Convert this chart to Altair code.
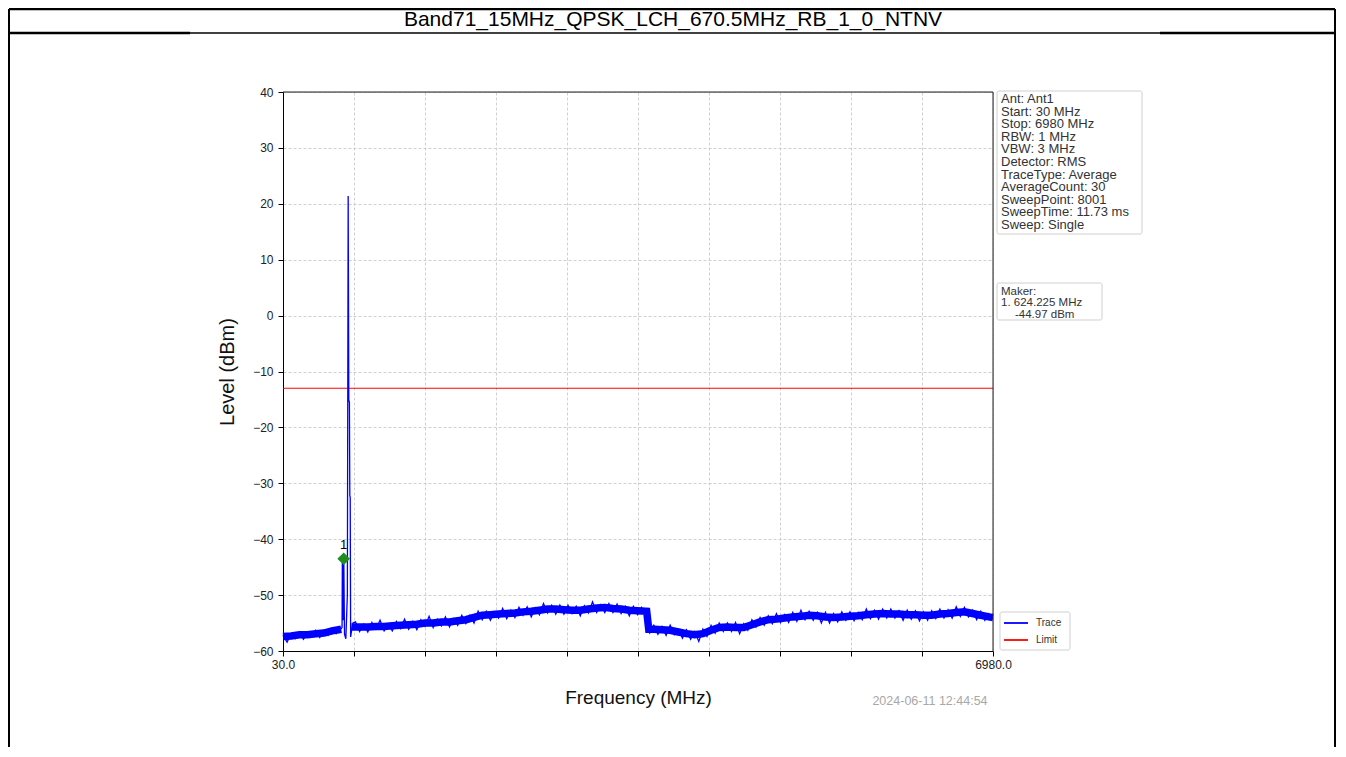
import altair as alt
import pandas as pd

TITLE = "Band71_15MHz_QPSK_LCH_670.5MHz_RB_1_0_NTNV"

# Trace (frequency in MHz, level in dBm)
trace_freq = [
    30, 70, 110, 150, 190, 230, 270, 310, 350, 390, 430, 470, 510, 550, 590,
    600, 608, 611, 618, 625, 632, 645, 660, 668, 674, 680, 684, 688, 692, 700, 715,
    740, 780, 820, 860, 900, 940, 980, 1020, 1060, 1100, 1140, 1180, 1220, 1260, 1300,
    1340, 1380, 1420, 1460, 1500, 1540, 1580, 1620, 1660, 1700, 1740, 1780, 1820, 1860,
    1900, 1940, 1980, 2020, 2060, 2100, 2140, 2180, 2220, 2260, 2300, 2340, 2380, 2420,
    2460, 2500, 2540, 2580, 2620, 2660, 2700, 2740, 2780, 2820, 2860, 2900, 2940, 2980,
    3020, 3060, 3100, 3140, 3180, 3220, 3260, 3300, 3340, 3380, 3420, 3460, 3500, 3540,
    3580, 3595, 3605, 3620, 3660, 3700, 3740, 3780, 3820, 3860, 3900, 3940, 3980, 4020,
    4060, 4100, 4140, 4180, 4220, 4260, 4300, 4340, 4380, 4420, 4460, 4500, 4540, 4580,
    4620, 4660, 4700, 4740, 4780, 4820, 4860, 4900, 4940, 4980, 5020, 5060, 5100, 5140,
    5180, 5220, 5260, 5300, 5340, 5380, 5420, 5460, 5500, 5540, 5580, 5620, 5660, 5700,
    5740, 5780, 5820, 5860, 5900, 5940, 5980, 6020, 6060, 6100, 6140, 6180, 6220, 6260,
    6300, 6340, 6380, 6420, 6460, 6500, 6540, 6580, 6620, 6660, 6700, 6740, 6780, 6820,
    6860, 6900, 6940, 6980,
]
trace_level = [
    -57.2, -58.4, -56.9, -57.8, -56.6, -57.9, -56.8, -57.5, -56.3, -57.6, -56.5, -57.2, -55.9, -56.9, -56.0,
    -56.0, -55.8, -43.3, -54.5, -43.5, -57.0, -57.8, -50.0, 21.4, -15.1, -15.5, -32.2, -32.5, -57.5, -56.5, -55.0,
    -54.8, -56.5, -55.2, -56.6, -54.9, -56.1, -54.5, -56.4, -55.3, -56.4, -54.7, -56.0, -54.3, -56.1, -54.7,
    -56.2, -54.4, -55.6, -53.8, -55.8, -54.3, -55.5, -53.9, -55.7, -54.2, -55.4, -53.6, -55.1, -53.6,
    -55.0, -52.9, -54.4, -52.9, -54.5, -53.0, -54.1, -52.4, -54.2, -52.7, -54.0, -52.2, -53.6, -52.1,
    -53.9, -52.3, -53.5, -51.5, -53.2, -51.8, -53.4, -51.8, -53.4, -51.8, -53.3, -52.0, -53.7, -51.9,
    -53.2, -51.2, -53.1, -51.7, -53.1, -51.5, -53.1, -51.6, -53.3, -52.0, -53.7, -52.0, -53.5, -52.2,
    -53.6, -52.6, -56.3, -56.8, -55.4, -57.0, -55.6, -57.2, -55.4, -57.1, -56.1, -57.7, -56.2, -57.9,
    -56.5, -58.3, -56.1, -57.4, -55.4, -56.8, -55.0, -56.5, -55.0, -56.5, -54.9, -56.9, -55.1, -56.3,
    -54.4, -55.7, -54.0, -55.4, -53.7, -55.1, -53.3, -54.9, -53.5, -54.9, -53.1, -54.7, -52.7, -54.4,
    -52.9, -54.5, -53.1, -55.0, -53.1, -55.0, -53.3, -54.8, -53.0, -54.5, -53.0, -54.6, -53.1, -54.4,
    -52.5, -54.2, -52.7, -54.3, -52.5, -54.1, -52.5, -54.1, -52.8, -54.5, -52.7, -54.3, -52.8, -54.6,
    -53.0, -54.5, -52.8, -54.2, -52.5, -54.1, -52.6, -54.1, -52.1, -53.8, -52.2, -53.9, -52.7, -54.4,
    -52.9, -54.5, -53.3, -54.2,
]

# Middle of the dense noise band of the trace (two pieces around the carrier)
floor_freq_a = [30, 110, 190, 270, 350, 430, 510, 600]
floor_level_a = [-57.4, -57.3, -57.1, -57.1, -56.9, -56.8, -56.4, -56.1]
floor_freq_b = [
    700, 780, 860, 940, 1020, 1100, 1180, 1260, 1340, 1420, 1500, 1580, 1660, 1740,
    1820, 1900, 1980, 2060, 2140, 2220, 2300, 2380, 2460, 2540, 2620, 2700, 2780, 2860,
    2940, 3020, 3100, 3180, 3260, 3340, 3420, 3500, 3590, 3610, 3660, 3740, 3820, 3900,
    3980, 4060, 4140, 4220, 4300, 4380, 4460, 4540, 4620, 4700, 4780, 4860, 4940, 5020,
    5100, 5180, 5260, 5340, 5420, 5500, 5580, 5660, 5740, 5820, 5900, 5980, 6060, 6140,
    6220, 6300, 6380, 6460, 6540, 6620, 6700, 6780, 6860, 6940, 6980,
]
floor_level_b = [
    -55.7, -55.7, -55.7, -55.6, -55.6, -55.5, -55.4, -55.3, -55.2, -55.0, -55.0, -54.8, -54.8, -54.6,
    -54.4, -54.0, -53.6, -53.5, -53.4, -53.3, -53.2, -53.0, -52.9, -52.7, -52.5, -52.5, -52.6, -52.7,
    -52.7, -52.5, -52.3, -52.2, -52.4, -52.5, -52.7, -52.8, -52.9, -56.1, -56.1, -56.2, -56.3, -56.6,
    -56.9, -57.1, -56.9, -56.3, -55.8, -55.7, -55.8, -55.8, -55.3, -54.8, -54.4, -54.3, -54.1, -53.9,
    -53.8, -53.6, -53.7, -53.9, -54.0, -53.9, -53.8, -53.7, -53.5, -53.4, -53.3, -53.4, -53.4, -53.5,
    -53.5, -53.6, -53.6, -53.4, -53.3, -53.1, -53.0, -53.3, -53.6, -53.9, -54.0,
]

limit_freq = [30, 6980]
limit_level = [-13, -13]

marker_freq = [624.225]
marker_level = [-43.5]
marker_label = ["1"]

x_ticks = [30, 725, 1420, 2115, 2810, 3505, 4200, 4895, 5590, 6285, 6980]
y_ticks = [-60, -50, -40, -30, -20, -10, 0, 10, 20, 30, 40]

legend_names = ["Trace", "Limit"]
legend_colors = ["#0000ff", "#ff0000"]

info_lines = [
    "Ant: Ant1", "Start: 30 MHz", "Stop: 6980 MHz", "RBW: 1 MHz", "VBW: 3 MHz",
    "Detector: RMS", "TraceType: Average", "AverageCount: 30", "SweepPoint: 8001",
    "SweepTime: 11.73 ms", "Sweep: Single",
]
marker_lines = ["Maker:", "1. 624.225 MHz", "-44.97 dBm"]
timestamp = "2024-06-11 12:44:54"

FONT = "Liberation Sans"
W, H = 710, 559

trace_df = pd.DataFrame({"freq": trace_freq, "level": trace_level})
floor_df = pd.concat([
    pd.DataFrame({"freq": floor_freq_a, "level": floor_level_a, "seg": "a"}),
    pd.DataFrame({"freq": floor_freq_b, "level": floor_level_b, "seg": "b"}),
])
limit_df = pd.DataFrame({"freq": limit_freq, "level": limit_level})
marker_df = pd.DataFrame({"freq": marker_freq, "level": marker_level, "label": marker_label})

xscale = alt.Scale(domain=[30, 6980], nice=False, zero=False)
yscale = alt.Scale(domain=[-60, 40], nice=False, zero=False)

x_axis = alt.Axis(
    values=x_ticks, title="Frequency (MHz)",
    labelExpr="datum.value == 30 || datum.value == 6980 ? format(datum.value, '.1f') : ''",
    grid=True, gridColor="#c4c4c4", gridDash=[3, 2], gridWidth=0.8,
    domainColor="#000", tickColor="#000", tickSize=5, labelPadding=3,
    labelFontSize=12, labelColor="#222", labelFont=FONT,
    titleFont=FONT, titleFontSize=19, titleFontWeight="normal", titleColor="#111",
    titleX=355, titleY=46, titleBaseline="middle", titleAlign="center",
    labelFlush=False,
)
y_axis = alt.Axis(
    values=y_ticks, title="Level (dBm)", format="d",
    grid=True, gridColor="#c4c4c4", gridDash=[3, 2], gridWidth=0.8,
    domainColor="#000", tickColor="#000", tickSize=5, labelPadding=5,
    labelFontSize=12, labelColor="#222", labelFont=FONT,
    titleFont=FONT, titleFontSize=20, titleFontWeight="normal", titleColor="#111",
    titleX=-56, titleY=H / 2, titleAngle=-90, titleBaseline="middle", titleAlign="center",
)

limit_layer = alt.Chart(limit_df).mark_line(strokeWidth=1.2, color=legend_colors[1]).encode(
    x=alt.X("freq:Q", scale=xscale, axis=x_axis),
    y=alt.Y("level:Q", scale=yscale, axis=y_axis),
)
floor_layer = alt.Chart(floor_df).mark_line(strokeWidth=7.5, color=legend_colors[0]).encode(
    x=alt.X("freq:Q", scale=xscale),
    y=alt.Y("level:Q", scale=yscale),
    detail="seg:N",
)
trace_layer = alt.Chart(trace_df).mark_line(strokeWidth=1.3, color=legend_colors[0]).encode(
    x=alt.X("freq:Q", scale=xscale),
    y=alt.Y("level:Q", scale=yscale),
)
marker_pt = alt.Chart(marker_df).mark_point(
    shape="diamond", filled=True, size=160, color="#1e8c1e", opacity=1
).encode(x=alt.X("freq:Q", scale=xscale), y=alt.Y("level:Q", scale=yscale))
marker_txt = alt.Chart(marker_df).mark_text(
    font=FONT, fontSize=13, color="#000", baseline="bottom", dy=-7
).encode(x=alt.X("freq:Q", scale=xscale), y=alt.Y("level:Q", scale=yscale), text="label:N")

one = alt.Data(values=[{}])

def rule(x1, y1, x2, y2, w, color="#000"):
    return alt.Chart(one).mark_rule(strokeWidth=w, color=color).encode(
        x=alt.value(x1), x2=alt.value(x2), y=alt.value(y1), y2=alt.value(y2)
    )

def box(x1, y1, x2, y2):
    return alt.Chart(one).mark_rect(
        fill="#ffffff", stroke="#cfcfcf", strokeWidth=1, cornerRadius=2
    ).encode(x=alt.value(x1), x2=alt.value(x2), y=alt.value(y1), y2=alt.value(y2))

def text_block(lines, x, y, size, lh, color="#333", align="left", baseline="top"):
    return alt.Chart(one).mark_text(
        font=FONT, fontSize=size, color=color, align=align, baseline=baseline,
        lineBreak="\n", lineHeight=lh,
    ).encode(x=alt.value(x), y=alt.value(y), text=alt.value("\n".join(lines)))

frame = [
    rule(-274, -83, 1052, -83, 2.5),
    rule(-274, -59, -93, -59, 2.5),
    rule(-93, -59, 877, -59, 1.5),
    rule(877, -59, 1052, -59, 2.5),
    rule(-274, -83, -274, 660, 2),
    rule(1052, -83, 1052, 660, 2),
]
plot_border = [
    rule(0, 0, W, 0, 1, "#222"),
    rule(W, 0, W, H, 1, "#222"),
]

title_txt = alt.Chart(one).mark_text(
    font=FONT, fontSize=21, color="#000", align="center", baseline="alphabetic"
).encode(x=alt.value(390), y=alt.value(-66.5), text=alt.value(TITLE))

info = [
    box(714, -1, 859, 142),
    text_block(info_lines, 718, 1, 13, 12.6),
    box(714, 191, 819, 228),
    text_block([marker_lines[0]], 718, 199.5, 11.5, 11, baseline="middle"),
    text_block([marker_lines[1]], 718, 211, 11.5, 11, baseline="middle"),
    text_block([marker_lines[2]], 732, 222.5, 11.5, 11, baseline="middle"),
]

legend_parts = [
    box(717, 520, 787, 558),
    rule(721, 531, 745, 531, 1.8, legend_colors[0]),
    rule(721, 548, 745, 548, 1.8, legend_colors[1]),
    text_block([legend_names[0]], 753, 526, 10, 10),
    text_block([legend_names[1]], 753, 543, 10, 10),
]

ts = alt.Chart(one).mark_text(
    font=FONT, fontSize=12.5, color="#a8a8a8", align="center", baseline="middle"
).encode(x=alt.value(647), y=alt.value(609), text=alt.value(timestamp))

chart = alt.layer(
    *frame, title_txt, limit_layer, floor_layer, trace_layer, marker_pt, marker_txt,
    *plot_border, *info, *legend_parts, ts
).properties(
    width=W, height=H,
    autosize=alt.AutoSizeParams(type="none"),
    padding={"left": 275, "top": 84, "right": 343, "bottom": 96},
).configure_view(stroke="#222", strokeWidth=1).configure(font=FONT)

chart.save("out.html", embed_options={"renderer": "svg", "actions": False})
